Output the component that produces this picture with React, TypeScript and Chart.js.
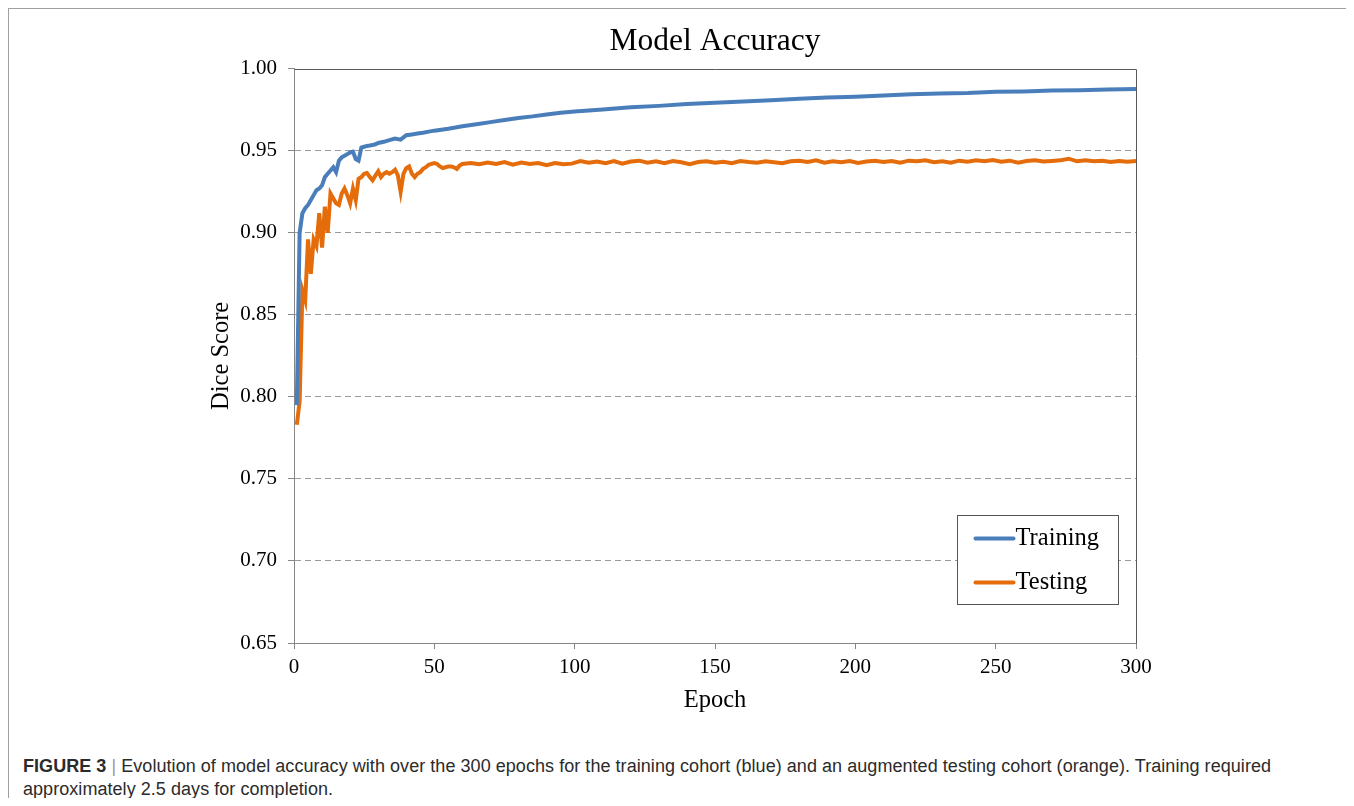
import React, { useEffect, useRef } from "react";
import { Chart, registerables } from "chart.js";

Chart.register(...registerables);

// ---- data ----
const trainEpochs = [
  1, 2, 3, 4, 5, 6, 7, 8, 9, 10, 11, 12, 13, 14, 15, 16, 17, 18, 19, 20, 21, 22, 23, 24, 25,
  26, 27, 28, 29, 30, 32, 34, 36, 38, 40, 42, 44, 46, 48, 50, 55, 60, 65, 70, 75, 80, 85, 90,
  95, 100, 110, 120, 130, 140, 150, 160, 170, 180, 190, 200, 210, 220, 230, 240, 250, 260,
  270, 280, 290, 300,
];
const trainValues = [
  0.795, 0.9, 0.912, 0.915, 0.917, 0.92, 0.923, 0.926, 0.927, 0.929, 0.934, 0.936, 0.938,
  0.94, 0.937, 0.944, 0.946, 0.947, 0.948, 0.949, 0.9495, 0.945, 0.944, 0.952, 0.9525, 0.953,
  0.9532, 0.9535, 0.954, 0.9548, 0.9555, 0.9565, 0.9575, 0.9568, 0.9595, 0.96, 0.9605, 0.961,
  0.9617, 0.9623, 0.9635, 0.965, 0.9662, 0.9675, 0.9688, 0.97, 0.971, 0.9722, 0.9732, 0.974,
  0.9752, 0.9765, 0.9774, 0.9785, 0.9793, 0.98, 0.9808, 0.9817, 0.9825, 0.983, 0.9838,
  0.9845, 0.985, 0.9853, 0.986, 0.9862, 0.9867, 0.987, 0.9874, 0.9877,
];

const testEpochs = [
  1, 2, 3, 4, 5, 6, 7, 8, 9, 10, 11, 12, 13, 14, 15, 16, 17, 18, 19, 20, 21, 22, 23, 24, 25,
  26, 27, 28, 29, 30, 31, 32, 33, 34, 35, 36, 37, 38, 39, 40, 41, 42, 43, 44, 45, 46, 47, 48,
  49, 50, 51, 52, 53, 54, 55, 56, 57, 58, 59, 60, 63, 66, 69, 72, 75, 78, 81, 84, 87, 90, 93,
  96, 99, 102, 105, 108, 111, 114, 117, 120, 123, 126, 129, 132, 135, 138, 141, 144, 147, 150,
  153, 156, 159, 162, 165, 168, 171, 174, 177, 180, 183, 186, 189, 192, 195, 198, 201, 204,
  207, 210, 213, 216, 219, 222, 225, 228, 231, 234, 237, 240, 243, 246, 249, 252, 255, 258,
  261, 264, 267, 270, 273, 276, 279, 282, 285, 288, 291, 294, 297, 300,
];
const testValues = [
  0.783, 0.797, 0.865, 0.859, 0.896, 0.875, 0.896, 0.892, 0.912, 0.891, 0.916, 0.9, 0.924,
  0.921, 0.918, 0.917, 0.924, 0.927, 0.923, 0.918, 0.927, 0.92, 0.933, 0.934, 0.936, 0.9365,
  0.934, 0.932, 0.935, 0.9375, 0.934, 0.936, 0.937, 0.936, 0.937, 0.9385, 0.935, 0.925, 0.936,
  0.9395, 0.9405, 0.936, 0.934, 0.936, 0.937, 0.939, 0.94, 0.9415, 0.942, 0.9425, 0.942,
  0.9405, 0.9395, 0.94, 0.9405, 0.9405, 0.94, 0.939, 0.941, 0.942, 0.9425, 0.9418, 0.9428,
  0.942, 0.9432, 0.9415, 0.9428, 0.942, 0.9425, 0.9412, 0.9426, 0.9418, 0.9422, 0.9438,
  0.9428, 0.9435, 0.9425, 0.9438, 0.9422, 0.9435, 0.944, 0.9428, 0.9436, 0.9425, 0.9438,
  0.943, 0.9418, 0.9432, 0.9436, 0.9428, 0.9434, 0.9425, 0.9438, 0.9432, 0.9428, 0.9436,
  0.943, 0.9425, 0.9436, 0.944, 0.9432, 0.9442, 0.9428, 0.9436, 0.943, 0.9438, 0.9426,
  0.9435, 0.944, 0.9432, 0.9438, 0.9428, 0.944, 0.9436, 0.9442, 0.943, 0.9436, 0.9428, 0.944,
  0.9434, 0.9442, 0.9436, 0.9444, 0.9434, 0.944, 0.9428, 0.9438, 0.9442, 0.9435, 0.9438,
  0.9442, 0.9452, 0.9436, 0.9442, 0.9436, 0.944, 0.9432, 0.9438, 0.9434, 0.9438,
];

const seriesLabels = ["Training", "Testing"];
const seriesColors = ["#4a7ebb", "#e46c0a"];
const xTickStep = 50;
const yTickStep = 0.05;

const SERIF = "'Liberation Serif', 'Times New Roman', serif";

const insideLegend = {
  id: "insideLegend",
  afterDraw(chart: any) {
    const { ctx, chartArea } = chart;
    const w = 161;
    const h = 89;
    const x = Math.round(chartArea.right - 18 - w) + 0.5;
    const y = Math.round(chartArea.bottom - 39 - h) + 0.5;
    ctx.save();
    ctx.fillStyle = "#ffffff";
    ctx.fillRect(x, y, w, h);
    ctx.strokeStyle = "#555555";
    ctx.lineWidth = 1;
    ctx.strokeRect(x, y, w, h);
    chart.data.datasets.forEach((ds: any, i: number) => {
      const cy = y + 23 + i * 44;
      ctx.strokeStyle = ds.borderColor;
      ctx.lineWidth = 4;
      ctx.lineCap = "round";
      ctx.beginPath();
      ctx.moveTo(x + 18, cy);
      ctx.lineTo(x + 56, cy);
      ctx.stroke();
      ctx.fillStyle = "#000000";
      ctx.font = `24.5px ${SERIF}`;
      ctx.textAlign = "left";
      ctx.textBaseline = "middle";
      ctx.fillText(ds.label, x + 58, cy);
    });
    ctx.restore();
  },
};

const boxBorder = {
  id: "boxBorder",
  afterDatasetsDraw(chart: any) {
    const { ctx, chartArea } = chart;
    const l = Math.round(chartArea.left) + 0.5;
    const r = Math.round(chartArea.right) + 0.5;
    const t = Math.round(chartArea.top) + 0.5;
    const b = Math.round(chartArea.bottom) + 0.5;
    ctx.save();
    ctx.strokeStyle = "#5a5a5a";
    ctx.lineWidth = 1;
    ctx.beginPath();
    ctx.moveTo(l, t);
    ctx.lineTo(r, t);
    ctx.lineTo(r, b);
    ctx.stroke();
    ctx.restore();
  },
};

function isEdge(v: number) {
  return Math.abs(v - 0.65) < 1e-6 || Math.abs(v - 1.0) < 1e-6;
}

function AccuracyChart() {
  const ref = useRef<HTMLCanvasElement | null>(null);
  useEffect(() => {
    if (!ref.current) return;
    const chart = new Chart(ref.current, {
      type: "line",
      data: {
        datasets: [
          {
            label: seriesLabels[0],
            data: trainEpochs.map((e, i) => ({ x: e, y: trainValues[i] })),
            borderColor: seriesColors[0],
            backgroundColor: seriesColors[0],
            borderWidth: 4,
            pointRadius: 0,
            tension: 0,
          },
          {
            label: seriesLabels[1],
            data: testEpochs.map((e, i) => ({ x: e, y: testValues[i] })),
            borderColor: seriesColors[1],
            backgroundColor: seriesColors[1],
            borderWidth: 4,
            pointRadius: 0,
            tension: 0,
          },
        ],
      },
      options: {
        animation: false,
        responsive: false,
        maintainAspectRatio: false,
        layout: { padding: { left: 0, top: 0, bottom: 0, right: 214 } },
        plugins: {
          legend: { display: false },
          tooltip: { enabled: false },
          title: {
            display: true,
            fullSize: false,
            text: "Model Accuracy",
            color: "#000000",
            font: { family: SERIF, size: 31.5, weight: "normal", lineHeight: 1.2 },
            padding: { top: 15, bottom: 8 },
          },
        },
        scales: {
          x: {
            type: "linear",
            min: 0,
            max: 300,
            afterFit(scale: any) {
              scale.height = 85;
            },
            ticks: {
              stepSize: xTickStep,
              color: "#000000",
              font: { family: SERIF, size: 21 },
              padding: 6,
              maxRotation: 0,
            },
            grid: {
              drawOnChartArea: false,
              drawTicks: true,
              tickLength: 6,
              tickColor: "#868686",
            },
            border: { display: true, color: "#868686", width: 1 },
            title: {
              display: true,
              text: "Epoch",
              color: "#000000",
              font: { family: SERIF, size: 24.5 },
              padding: { top: 0, bottom: 13 },
            },
          },
          y: {
            type: "linear",
            min: 0.65,
            max: 1.0,
            afterFit(scale: any) {
              scale.width = 214;
            },
            ticks: {
              stepSize: yTickStep,
              color: "#000000",
              font: { family: SERIF, size: 21 },
              padding: 11,
              callback: (v: any) => Number(v).toFixed(2),
            },
            grid: {
              drawOnChartArea: true,
              drawTicks: true,
              tickLength: 6,
              color: (c: any) => (c.tick && isEdge(c.tick.value) ? "rgba(0,0,0,0)" : "#9a9a9a"),
              tickColor: "#868686",
              tickBorderDash: [],
              lineWidth: 1,
            },
            border: { display: true, color: "#868686", width: 1, dash: [6, 4] },
            title: {
              display: true,
              text: "Dice Score",
              color: "#000000",
              font: { family: SERIF, size: 24.5 },
              padding: { top: 127, bottom: 0 },
            },
          },
        },
      },
      plugins: [boxBorder, insideLegend],
    } as any);
    return () => chart.destroy();
  }, []);
  return (
    <canvas
      ref={ref}
      width={1270}
      height={720}
      style={{ position: "absolute", left: 72, top: 0, width: 1270, height: 720 }}
    />
  );
}

export default function App() {
  useEffect(() => {
    document.documentElement.style.overflow = "hidden";
    document.body.style.overflow = "hidden";
  }, []);
  return (
    <div style={{ position: "relative", width: 1346, height: 790 }}>
      <div
        style={{
          position: "absolute",
          left: 0,
          top: 0,
          width: 1345,
          height: 820,
          boxSizing: "border-box",
          borderTop: "1px solid #a0a0a0",
          borderLeft: "1px solid #a0a0a0",
          borderRight: "1px solid #d8d8d8",
        }}
      />
      <AccuracyChart />
      <div
        style={{
          position: "absolute",
          left: 15,
          top: 747,
          width: 1275,
          fontFamily: "'Liberation Sans', Arial, sans-serif",
          fontSize: 18,
          lineHeight: "23px",
          letterSpacing: "0.05px",
          color: "#2b2b2b",
        }}
      >
        <span style={{ fontWeight: "bold" }}>FIGURE 3</span>
        <span style={{ color: "#9a9a9a" }}> | </span>
        Evolution of model accuracy with over the 300 epochs for the training cohort (blue) and an
        augmented testing cohort (orange). Training required approximately 2.5 days for completion.
      </div>
    </div>
  );
}
